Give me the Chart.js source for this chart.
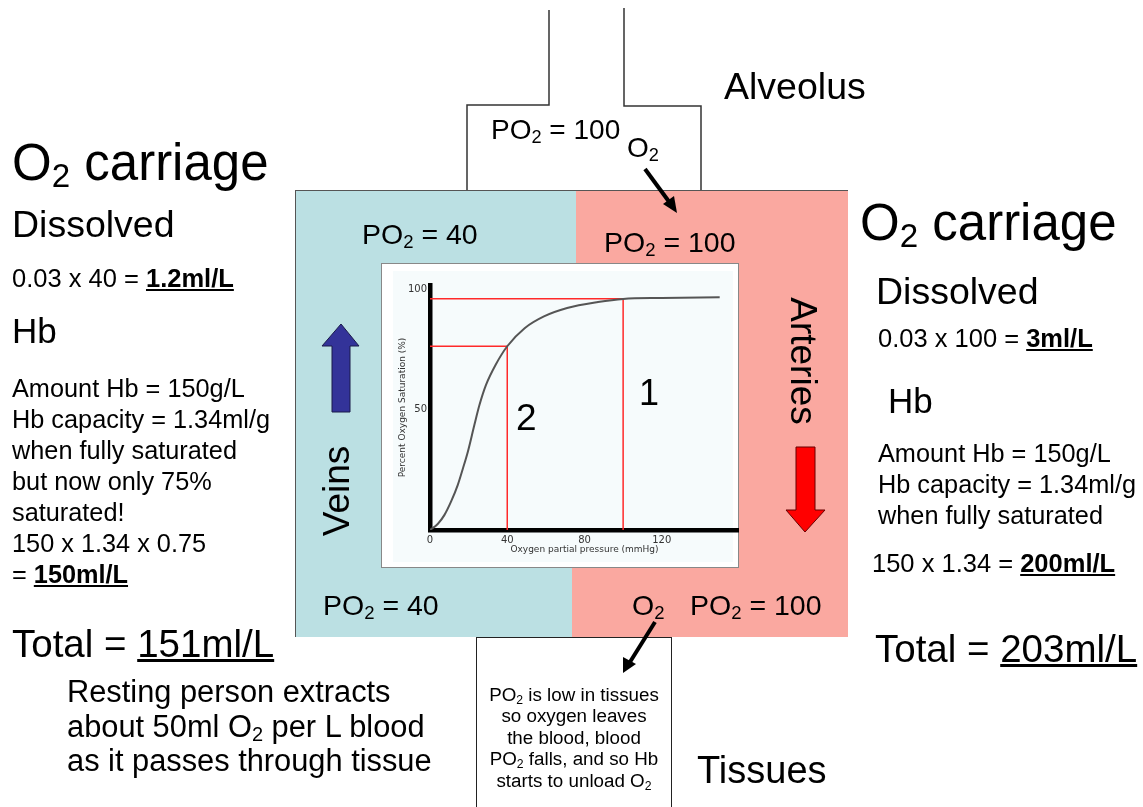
<!DOCTYPE html>
<html>
<head>
<meta charset="utf-8">
<title>O2 carriage</title>
<script src="https://cdn.jsdelivr.net/npm/chart.js@4.4.1/dist/chart.umd.min.js"></script>
<style>
  body { margin: 0; background: #fff; }
  #page { position: relative; width: 1143px; height: 807px; overflow: hidden; font-family: "Liberation Sans", Arial, sans-serif; color: #000; }
  .t { position: absolute; white-space: nowrap; line-height: 1; }
  .t sub { font-size: .65em; vertical-align: -0.22em; line-height: 0; }
  .blk { position: absolute; white-space: nowrap; }
  .blk sub { font-size: .65em; vertical-align: -0.22em; line-height: 0; }
  .box { position: absolute; }
</style>
</head>
<body>
<div id="page">

  <!-- blood vessel box -->
  <div class="box" style="left:295px; top:190px; width:553px; height:447px; background:#bbe0e3; border-left:1.5px solid #555; border-top:1.5px solid #555; box-sizing:border-box;"></div>
  <div class="box" style="left:576px; top:191px; width:272px; height:223px; background:#faa8a0;"></div>
  <div class="box" style="left:572px; top:414px; width:276px; height:223px; background:#faa8a0;"></div>

  <!-- tissues box -->
  <div class="box" style="left:476px; top:637px; width:196px; height:180px; background:#fff; border:1.5px solid #222; box-sizing:border-box;"></div>

  <!-- graph frame -->
  <div class="box" style="left:381px; top:263px; width:358px; height:305px; background:#fff; border:1px solid #888; box-sizing:border-box;"></div>
  <div class="box" style="left:393px; top:271px; width:340px; height:291px; background:#f6fbfc;"></div>
  <canvas id="graficoSaturacao" width="358" height="305" style="position:absolute; left:381px; top:263px;"></canvas>
  <div class="t" style="left:639px; top:374.5px; font-size:36px;">1</div>
  <div class="t" style="left:516px; top:398.7px; font-size:37px;">2</div>

  <!-- outlines and arrows -->
  <svg width="1143" height="807" style="position:absolute; left:0; top:0;">
    <polyline points="549,10 549,105 467,105 467,190" fill="none" stroke="#333" stroke-width="1.5"/>
    <polyline points="624,8 624,106 701,106 701,190" fill="none" stroke="#333" stroke-width="1.5"/>
    <line x1="645" y1="169" x2="670" y2="203" stroke="#000" stroke-width="4"/>
    <polygon points="677,213 663,204 674,196" fill="#000"/>
    <line x1="655" y1="622" x2="630" y2="662" stroke="#000" stroke-width="4"/>
    <polygon points="623,673 623,657 636,664" fill="#000"/>
    <polygon points="341,324 359,346 350,346 350,412 332,412 332,346 322,346" fill="#333399" stroke="#1a1a4a" stroke-width="1"/>
    <polygon points="796,447 815,447 815,510 825,510 805,532 786,510 796,510" fill="#ff0000" stroke="#600" stroke-width="1"/>
  </svg>

  <!-- left column -->
  <div class="t" style="left:12px; top:136.8px; font-size:51px;">O<sub>2</sub> carriage</div>
  <div class="t" style="left:12px; top:206.2px; font-size:37.5px;">Dissolved</div>
  <div class="t" style="left:12px; top:265.6px; font-size:25.5px;">0.03 x 40 = <b><u>1.2ml/L</u></b></div>
  <div class="t" style="left:12px; top:313.4px; font-size:35px;">Hb</div>
  <div class="blk" style="left:12px; top:372.7px; font-size:25.3px; line-height:31px;">
    Amount Hb = 150g/L<br>Hb capacity = 1.34ml/g<br>when fully saturated<br>but now only 75%<br>saturated!<br>150 x 1.34 x 0.75<br>= <b><u>150ml/L</u></b>
  </div>
  <div class="t" style="left:12px; top:625.4px; font-size:38.5px;">Total = <u>151ml/L</u></div>
  <div class="t" style="left:67px; top:677.4px; font-size:30.8px;">Resting person extracts</div>
  <div class="t" style="left:67px; top:711.9px; font-size:30.8px;">about 50ml O<sub>2</sub> per L blood</div>
  <div class="t" style="left:67px; top:746.4px; font-size:30.8px;">as it passes through tissue</div>

  <!-- right column -->
  <div class="t" style="left:860px; top:196.8px; font-size:51px;">O<sub>2</sub> carriage</div>
  <div class="t" style="left:876px; top:273.2px; font-size:37.5px;">Dissolved</div>
  <div class="t" style="left:878px; top:326.4px; font-size:25.5px;">0.03 x 100 = <b><u>3ml/L</u></b></div>
  <div class="t" style="left:888px; top:383.4px; font-size:35px;">Hb</div>
  <div class="blk" style="left:878px; top:437.7px; font-size:25.3px; line-height:31px;">
    Amount Hb = 150g/L<br>Hb capacity = 1.34ml/g<br>when fully saturated
  </div>
  <div class="t" style="left:872px; top:551.4px; font-size:25.5px;">150 x 1.34 = <b><u>200ml/L</u></b></div>
  <div class="t" style="left:875px; top:630.4px; font-size:38.5px;">Total = <u>203ml/L</u></div>

  <!-- diagram labels -->
  <div class="t" style="left:724px; top:67.7px; font-size:37.5px;">Alveolus</div>
  <div class="t" style="left:491px; top:116.3px; font-size:28px;">PO<sub>2</sub> = 100</div>
  <div class="t" style="left:627px; top:134.3px; font-size:28px;">O<sub>2</sub></div>
  <div class="t" style="left:362px; top:219.9px; font-size:28.5px;">PO<sub>2</sub> = 40</div>
  <div class="t" style="left:604px; top:227.9px; font-size:28.5px;">PO<sub>2</sub> = 100</div>
  <div class="t" style="left:323px; top:590.9px; font-size:28.5px;">PO<sub>2</sub> = 40</div>
  <div class="t" style="left:632px; top:590.9px; font-size:28.5px;">O<sub>2</sub></div>
  <div class="t" style="left:690px; top:590.9px; font-size:28.5px;">PO<sub>2</sub> = 100</div>
  <div class="t" style="left:336px; top:491px; font-size:37px; transform:translate(-50%,-50%) rotate(-90deg);">Veins</div>
  <div class="t" style="left:803px; top:361px; font-size:37px; transform:translate(-50%,-50%) rotate(90deg);">Arteries</div>
  <div class="t" style="left:697px; top:750.8px; font-size:38px;">Tissues</div>
  <div class="blk" style="left:476px; top:683.8px; width:196px; text-align:center; font-size:18.8px; line-height:21.5px;">
    PO<sub>2</sub> is low in tissues<br>so oxygen leaves<br>the blood, blood<br>PO<sub>2</sub> falls, and so Hb<br>starts to unload O<sub>2</sub>
  </div>
</div>

<script>
// =========================
// CURVA DE DISSOCIAÇÃO
// =========================

const pressao = [0, 4, 7.5, 11, 14.4, 17, 19.6, 23, 25.6, 29, 34, 40, 49, 59, 71, 87, 100, 120, 150];
const saturacao = [0, 2.5, 6.3, 12, 18.8, 25.5, 32.6, 43.8, 52, 60.4, 68.8, 76.5, 84, 88.9, 92.4, 94.9, 96.2, 96.6, 96.9];

// guias vermelhas: 1 = arterial (PO2 100), 2 = venoso (PO2 40)
const arterialX = [0, 100, 100];
const arterialY = [96.3, 96.3, 0];
const venosoX = [0, 40, 40];
const venosoY = [76.5, 76.5, 0];

const ticksX = [0, 40, 80, 120];
const ticksY = [50, 100];

const pontos = (xs, ys) => xs.map((x, i) => ({ x: x, y: ys[i] }));

const graficoSaturacao = document.getElementById('graficoSaturacao');

if (graficoSaturacao) {

    const ctx = graficoSaturacao.getContext('2d');

    new Chart(ctx, {
        type: 'line',
        data: {
            datasets: [
                {
                    data: pontos(pressao, saturacao),
                    borderColor: '#555555',
                    borderWidth: 2,
                    pointRadius: 0,
                    cubicInterpolationMode: 'monotone',
                    fill: false
                },
                {
                    data: pontos(arterialX, arterialY),
                    borderColor: '#ff2a2a',
                    borderWidth: 1.5,
                    pointRadius: 0,
                    tension: 0,
                    fill: false
                },
                {
                    data: pontos(venosoX, venosoY),
                    borderColor: '#ff2a2a',
                    borderWidth: 1.5,
                    pointRadius: 0,
                    tension: 0,
                    fill: false
                }
            ]
        },
        options: {
            responsive: false,
            animation: false,
            events: [],
            layout: {
                padding: { top: 22, right: 0, bottom: 0, left: 0 }
            },
            scales: {
                x: {
                    type: 'linear',
                    min: 0,
                    max: 160,
                    grid: { display: false, drawTicks: false },
                    border: { color: '#000', width: 4.5 },
                    ticks: {
                        color: '#333',
                        padding: 4,
                        font: { family: 'DejaVu Sans', size: 10 }
                    },
                    title: {
                        display: true,
                        text: 'Oxygen partial pressure (mmHg)',
                        color: '#333',
                        padding: { top: 0, bottom: 13 },
                        font: { family: 'DejaVu Sans', size: 9 }
                    },
                    afterBuildTicks: (scale) => {
                        scale.ticks = ticksX.map(v => ({ value: v }));
                    },
                    afterFit: (scale) => {
                        scale.height = 38;
                    }
                },
                y: {
                    type: 'linear',
                    min: 0,
                    max: 102,
                    grid: { display: false, drawTicks: false },
                    border: { color: '#000', width: 4.5 },
                    ticks: {
                        color: '#333',
                        padding: 3,
                        font: { family: 'DejaVu Sans', size: 10 }
                    },
                    title: {
                        display: true,
                        text: 'Percent Oxygen Saturation (%)',
                        color: '#333',
                        padding: { top: 16, bottom: 0 },
                        font: { family: 'DejaVu Sans', size: 9 }
                    },
                    afterBuildTicks: (scale) => {
                        scale.ticks = ticksY.map(v => ({ value: v }));
                    },
                    afterFit: (scale) => {
                        scale.width = 49;
                    }
                }
            },
            plugins: {
                legend: { display: false },
                tooltip: { enabled: false }
            }
        }
    });
}
</script>
</body>
</html>
